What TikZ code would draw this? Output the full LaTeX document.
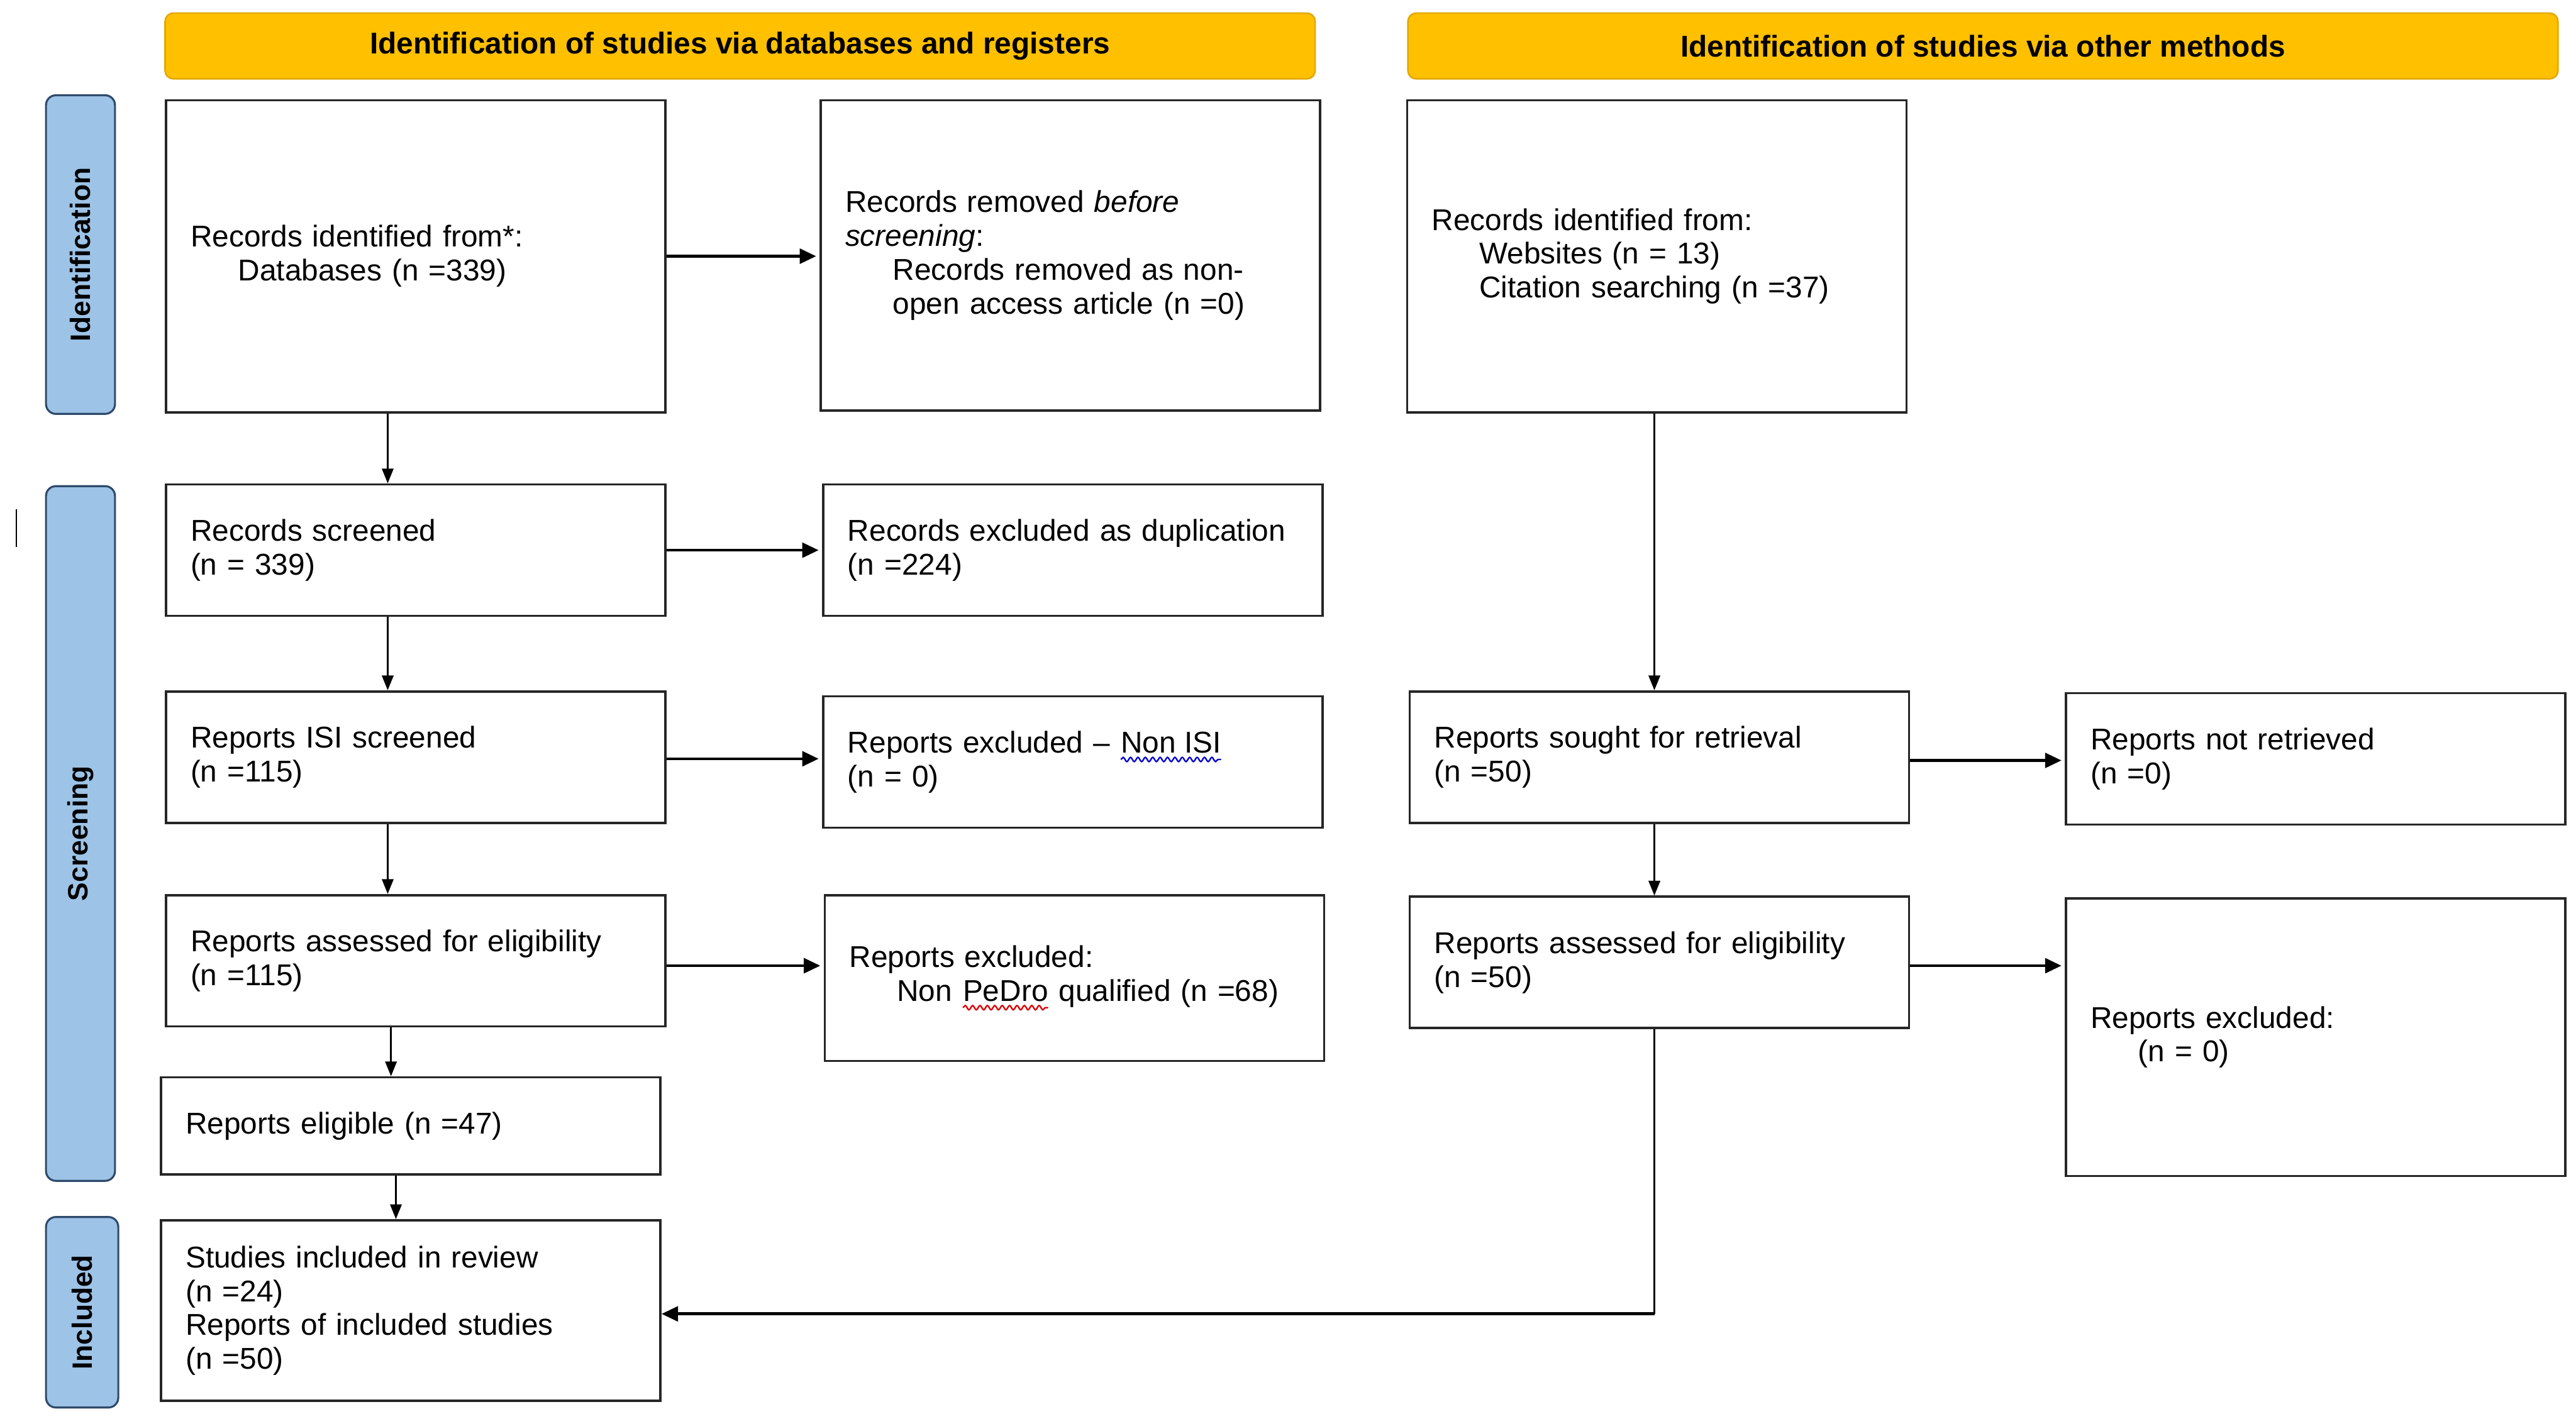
\documentclass[tikz,border=0pt]{standalone}
\usepackage{fontspec}
\setmainfont{Liberation Sans}
\usetikzlibrary{arrows.meta,decorations.pathmorphing}
\definecolor{hdr}{HTML}{FFC000}
\definecolor{hdrline}{HTML}{E3A900}
\definecolor{side}{HTML}{9DC3E6}
\definecolor{sideline}{HTML}{2E4A6B}
\definecolor{boxline}{HTML}{262626}
\newcommand\wavyul[2]{\tikz[baseline=(wtxt.base)]{\node[inner sep=0pt,outer sep=0pt,text width=,minimum width=0pt,minimum height=0pt,draw=none,fill=none] (wtxt) {#2};\draw[#1,line width=0.9pt,decorate,decoration={snake,amplitude=1.3pt,segment length=4.5pt}] ([yshift=-4pt]wtxt.base west) -- ([yshift=-4pt]wtxt.base east);}}
\newcommand\ind{\hspace*{29pt}}
\begin{document}
\begin{tikzpicture}[x=1pt,y=-1pt,
  box/.style={draw=boxline,line width=1.4pt,fill=white,inner xsep=15pt,inner ysep=0pt,
    minimum width=304pt,text width=274pt,align=left,
    font=\fontsize{18.3}{20.6}\selectfont},
  header/.style={draw=hdrline,line width=1pt,fill=hdr,rounded corners=5pt,
    minimum width=700pt,minimum height=40pt,inner sep=0pt,
    font=\fontsize{18.3}{20.6}\selectfont\bfseries},
  sidelabel/.style={draw=sideline,line width=1.2pt,fill=side,rounded corners=6pt,
    rotate=90,minimum height=42pt,inner sep=0pt,
    font=\fontsize{17}{19}\selectfont\bfseries},
  arrv/.style={line width=1.1pt,-{Triangle[length=9pt,width=7pt]}},
  arrh/.style={line width=1.8pt,-{Triangle[length=10pt,width=9pt]},shorten >=2pt},
  plain/.style={line width=1.3pt}]
\useasboundingbox (0,0) rectangle (1568,864);

% headers
\node[header] (h1) at (450.5,28) {Identification of studies via databases and registers};
\node[header] (h2) at (1207,28) {Identification of studies via other methods};

% side labels
\node[sidelabel,minimum width=194pt] (s1) at (49,155) {Identification};
\node[sidelabel,minimum width=423pt] (s2) at (49,507.5) {Screening};
\node[sidelabel,minimum width=116pt,minimum height=44pt] (s3) at (50,799) {Included};

% left column
\node[box,minimum height=190pt] (b1) at (253,156) {Records identified from*:\\\ind Databases (n =339)};
\node[box,minimum height=80pt] (b2) at (253,335) {Records screened\\(n = 339)};
\node[box,minimum height=80pt] (b3) at (253,461) {Reports ISI screened\\(n =115)};
\node[box,minimum height=80pt] (b4) at (253,585) {Reports assessed for eligibility\\(n =115)};
\node[box,minimum height=59pt] (b5) at (250,685.5) {Reports eligible (n =47)};
\node[box,minimum height=110pt] (b6) at (250,798) {Studies included in review\\(n =24)\\Reports of included studies\\(n =50)};

% removed / excluded column
\node[box,minimum height=189pt] (r1) at (651.5,155.5) {Records removed \textit{before}\\\textit{screening}:\\\ind Records removed as non-\\\ind open access article (n =0)};
\node[box,minimum height=80pt] (r2) at (653,335) {Records excluded as duplication\\(n =224)};
\node[box,minimum height=80pt] (r3) at (653,464) {Reports excluded -- \wavyul{blue!80!black}{Non ISI}\\(n = 0)};
\node[box,minimum height=101pt] (r4) at (654,595.5) {Reports excluded:\\\ind Non \wavyul{red!85!black}{PeDro} qualified (n =68)};

% other methods
\node[box,minimum height=190pt] (c1) at (1008.5,156) {Records identified from:\\\ind Websites (n = 13)\\\ind Citation searching (n =37)};
\node[box,minimum height=80pt] (c2) at (1010,461) {Reports sought for retrieval\\(n =50)};
\node[box,minimum height=80pt] (c3) at (1010,586) {Reports assessed for eligibility\\(n =50)};
\node[box,minimum height=80pt] (d2) at (1409.5,462) {Reports not retrieved\\(n =0)};
\node[box,minimum height=169pt] (d3) at (1409.5,631.5) {Reports excluded:\\\ind (n = 0)};

% helper coordinates
\coordinate (xa) at (236,0);
\coordinate (xb) at (238,0);
\coordinate (xc) at (241,0);
\coordinate (xr) at (1007,0);
\coordinate (turn) at (1007,800);

% horizontal arrows
\draw[arrh] (b1.east) -- (b1.east -| r1.west);
\draw[arrh] (b2.east) -- (b2.east -| r2.west);
\draw[arrh] ([yshift=-1pt]b3.east) -- ([yshift=-1pt]b3.east -| r3.west);
\draw[arrh] ([yshift=-3pt]b4.east) -- ([yshift=-3pt]b4.east -| r4.west);
\draw[arrh] ([yshift=-2pt]c2.east) -- ([yshift=-2pt]c2.east -| d2.west);
\draw[arrh] ([yshift=-2pt]c3.east) -- ([yshift=-2pt]c3.east -| d3.west);

% vertical arrows
\draw[arrv] (b1.south -| xa) -- (b2.north -| xa);
\draw[arrv] (b2.south -| xa) -- (b3.north -| xa);
\draw[arrv] (b3.south -| xa) -- (b4.north -| xa);
\draw[arrv] (b4.south -| xb) -- (b5.north -| xb);
\draw[arrv] (b5.south -| xc) -- (b6.north -| xc);
\draw[arrv] (c1.south -| xr) -- (c2.north -| xr);
\draw[arrv] (c2.south -| xr) -- (c3.north -| xr);
\draw[plain] (c3.south -| xr) -- (turn);
\draw[arrh,shorten >=0pt] (turn) -- (turn -| b6.east);

% stray mark
\draw[line width=1pt] (10,310) -- (10,333);
\end{tikzpicture}
\end{document}
